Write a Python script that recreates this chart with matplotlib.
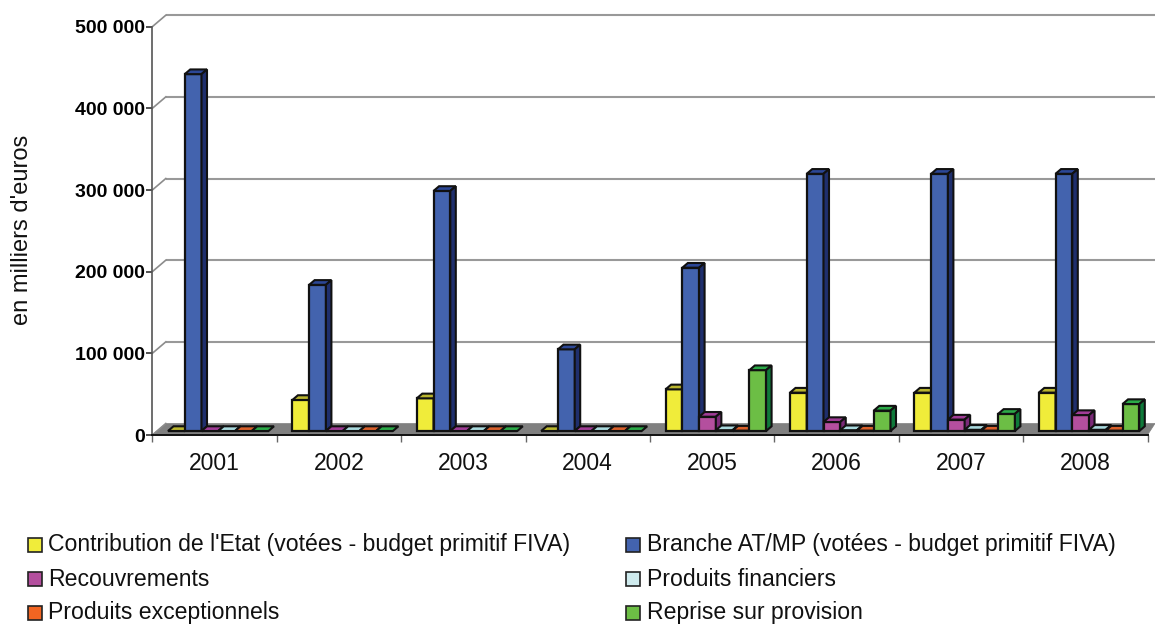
import matplotlib
matplotlib.use('Agg')
import matplotlib.pyplot as plt
from matplotlib.patches import Polygon, Rectangle

plt.rcParams['font.family'] = ['Liberation Sans', 'DejaVu Sans']

years = ['2001', '2002', '2003', '2004', '2005', '2006', '2007', '2008']
etat = [0, 38000, 40000, 0, 51000, 47000, 47000, 47000]
branche = [437000, 179000, 294000, 100000, 200000, 315000, 315000, 315000]
recouvrements = [0, 0, 0, 0, 17500, 11000, 14000, 19500]
financiers = [0, 0, 0, 0, 1000, 1000, 1500, 1500]
exceptionnels = [0, 0, 0, 0, 500, 500, 500, 500]
reprise = [0, 0, 0, 0, 74500, 25000, 21000, 33000]
yticks = [0, 100000, 200000, 300000, 400000, 500000]
ylabels = ['0', '100 000', '200 000', '300 000', '400 000', '500 000']

series = [etat, branche, recouvrements, financiers, exceptionnels, reprise]
names = ["Contribution de l'Etat (votées - budget primitif FIVA)",
         'Branche AT/MP (votées - budget primitif FIVA)',
         'Recouvrements', 'Produits financiers',
         'Produits exceptionnels', 'Reprise sur provision']
# front, top, side
colors = [('#F0EC3A', '#B9B52E', '#8E8A20'),
          ('#4363AE', '#2C4796', '#1F2F6D'),
          ('#B44F9E', '#A03C96', '#7A2A78'),
          ('#A9D9DD', '#A9D9DD', '#5F9FA5'),
          ('#D9602B', '#D9602B', '#9A3F1A'),
          ('#6CBE45', '#2BAA48', '#0F7A3A')]
legend_colors = ['#F0EC3A', '#4363AE', '#B44F9E', '#CFEBEE', '#F26522', '#6CBE45']

W, H = 1155, 624
fig = plt.figure(figsize=(W / 100, H / 100), dpi=100, facecolor='white')
# axes = the front plane of the 3D box
left, right, bottom, top = 152.3, 1147.5, 435.0, 26.7
ax = fig.add_axes([left / W, 1 - bottom / H, (right - left) / W, (bottom - top) / H])
ax.set_xlim(0, len(years))
ax.set_ylim(0, 500000)
ax.patch.set_visible(False)

# pixels to data units
px_x = len(years) / (right - left)
px_y = 500000 / (bottom - top)

wall_dx, wall_dy = 13.5 * px_x, 11.5 * px_y

# floor
ax.add_patch(Polygon([(0, 0), (wall_dx, wall_dy), (len(years) + 7.5 * px_x, wall_dy), (len(years), 0)],
                     closed=True, fc='#808080', ec='#808080', lw=0.5, clip_on=False, zorder=1))

# gridlines on back wall, with the little diagonal at the left
for t in yticks:
    if t > 0:
        ax.plot([wall_dx, len(years) + 7.5 * px_x], [t + wall_dy, t + wall_dy], color='#999999', lw=1.5,
                clip_on=False, zorder=1, solid_capstyle='butt')
    ax.plot([0, wall_dx], [t, t + wall_dy], color='#8c8c8c', lw=1.2, clip_on=False, zorder=1)

# bars
bar_w = 16.75 * px_x
start = 15.7 * px_x
base = 4.0 * px_y
d_x, d_y = 5.5 * px_x, 4.7 * px_y
z = 3
for s, vals in enumerate(series):
    front, top_c, side = colors[s]
    for i, v in enumerate(vals):
        x0 = i + start + s * bar_w
        y1 = base + v
        ax.bar(x0, v, bar_w, bottom=base, align='edge', color=front, edgecolor='#111111', lw=1.6,
               clip_on=False, zorder=z)
        ax.add_patch(Polygon([(x0, y1), (x0 + d_x, y1 + d_y), (x0 + bar_w + d_x, y1 + d_y), (x0 + bar_w, y1)],
                             closed=True, fc=top_c, ec='#111111', lw=1.5, clip_on=False, zorder=z))
        if v > 0:
            ax.add_patch(Polygon([(x0 + bar_w, base), (x0 + bar_w + d_x, base + d_y),
                                  (x0 + bar_w + d_x, y1 + d_y), (x0 + bar_w, y1)],
                                 closed=True, fc=side, ec='#111111', lw=1.5, clip_on=False, zorder=z))

# axes
for sp in ['top', 'right']:
    ax.spines[sp].set_visible(False)
ax.spines['left'].set_color('#555555')
ax.spines['left'].set_linewidth(1.2)
ax.spines['bottom'].set_color('#111111')
ax.spines['bottom'].set_linewidth(1.4)
ax.spines['left'].set_zorder(2)
ax.spines['bottom'].set_zorder(2)

ax.set_yticks(yticks)
ax.set_yticklabels(ylabels, fontsize=14, fontweight='bold')
ax.tick_params(axis='y', length=4, width=1.2, color='#333333', pad=1.5)
ax.set_xticks(range(len(years) + 1))
ax.set_xticklabels([''] * (len(years) + 1))
ax.tick_params(axis='x', length=5, width=1.0, color='#666666')
for i, y in enumerate(years):
    fig.text((left + (i + 0.5) * (right - left) / len(years)) / W, 1 - 463 / H, y, fontsize=16.5,
             ha='center', va='center', color='#111111')

fig.text(22 / W, 1 - 230 / H, "en milliers d'euros", rotation=90, fontsize=17, ha='center', va='center',
         color='#111111')

# legend
rows = [544.5, 579, 613]
cols = [(28, 48.5), (626, 647.5)]
for k, name in enumerate(names):
    mx, tx = cols[k % 2]
    ry = rows[k // 2]
    fig.add_artist(Rectangle((mx / W, 1 - (ry + 7) / H), 14 / W, 14 / H, transform=fig.transFigure,
                             fc=legend_colors[k], ec='#222222', lw=1.2))
    fig.text(tx / W, 1 - ry / H, name, fontsize=16.6, ha='left', va='center', color='#111111')

fig.savefig('out.png', dpi=100, facecolor='white')
